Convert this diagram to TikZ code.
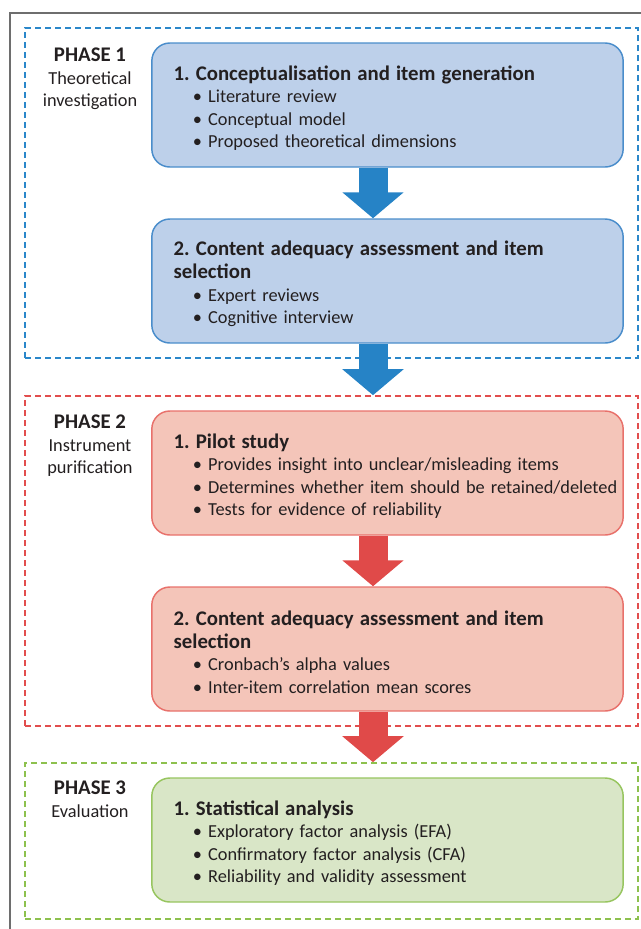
\documentclass[tikz,border=0pt]{standalone}
\usepackage{fontspec}
\setmainfont{Carlito}
\usetikzlibrary{arrows.meta,positioning,shapes}
\definecolor{ink}{HTML}{231F20}
\definecolor{framegray}{HTML}{6E6E6E}
\definecolor{bluedash}{HTML}{2A87CA}
\definecolor{blueline}{HTML}{4A8DCB}
\definecolor{bluefill}{HTML}{BDD0EA}
\definecolor{bluearrow}{HTML}{2683C6}
\definecolor{reddash}{HTML}{E24E4E}
\definecolor{redline}{HTML}{E8716B}
\definecolor{redfill}{HTML}{F4C5B9}
\definecolor{redarrow}{HTML}{E04A49}
\definecolor{greendash}{HTML}{8DC14E}
\definecolor{greenline}{HTML}{97C55F}
\definecolor{greenfill}{HTML}{D9E6C7}
\newcommand{\stagebody}{\fontsize{13.75}{16.9}\selectfont\frenchspacing}
\newcommand{\stagehead}{\fontsize{15.6}{16.9}\selectfont\bfseries}
\tikzset{
  phaseframe/.style={draw=#1, line width=1.2pt, dash pattern=on 4.5pt off 3pt, minimum width=459.75pt, inner sep=0pt},
  stagebox/.style 2 args={draw=#1, fill=#2, line width=1.1pt, rounded corners=13.5pt, text width=340pt, inner xsep=6.75pt, inner ysep=0pt, minimum height=93pt, align=left, font=\stagebody, text=ink, execute at begin node={\rule{0pt}{15.5pt}}},
  phaselabel/.style={anchor=north, align=center, inner sep=0pt, font=\stagebody, text=ink},
  flowarrow/.style={draw=#1, line width=21.75pt, -{Triangle[length=19.5pt,width=45pt]}}
}
\begin{document}
\begin{tikzpicture}[x=0.75pt,y=-0.75pt]
  \useasboundingbox (0,0) rectangle (641,929);
  \clip (0,0) rectangle (641,929);
  \draw[framegray, line width=1.1pt] (10,13) rectangle (700,1000);
  % phase frames
  \node[phaseframe=bluedash, minimum height=247.5pt] (f1) at (331.5,193) {};
  \node[phaseframe=reddash, minimum height=247.5pt] (f2) at (331.5,561) {};
  \node[phaseframe=greendash, minimum height=117pt] (f3) at (331.5,841) {};
  \coordinate (axis) at (373,0);
  % stages
  \node[stagebox={blueline}{bluefill}] (b1) at (387.5,105) {\hspace*{9.6pt}{\stagehead 1. Conceptualisation and item generation}\\
    \hspace*{24.1pt}• Literature review\\
    \hspace*{24.1pt}• Conceptual model\\
    \hspace*{24.1pt}• Proposed theoretical dimensions};
  \node[stagebox={blueline}{bluefill}] (b2) at (387.5,281) {\hspace*{9.6pt}{\stagehead 2. Content adequacy assessment and item}\\
    \hspace*{9.6pt}{\stagehead selection}\\
    \hspace*{24.1pt}• Expert reviews\\
    \hspace*{24.1pt}• Cognitive interview};
  \node[stagebox={redline}{redfill}] (r1) at (387.5,473) {\hspace*{9.6pt}{\stagehead 1. Pilot study}\\
    \hspace*{24.1pt}• Provides insight into unclear/misleading items\\
    \hspace*{24.1pt}\mbox{• Determines whether item should be retained/deleted}\\
    \hspace*{24.1pt}• Tests for evidence of reliability};
  \node[stagebox={redline}{redfill}] (r2) at (387.5,649) {\hspace*{9.6pt}{\stagehead 2. Content adequacy assessment and item}\\
    \hspace*{9.6pt}{\stagehead selection}\\
    \hspace*{24.1pt}• Cronbach’s alpha values\\
    \hspace*{24.1pt}• Inter-item correlation mean scores};
  \node[stagebox={greenline}{greenfill}] (g1) at (387.5,840) {\hspace*{9.6pt}{\stagehead 1. Statistical analysis}\\
    \hspace*{24.1pt}• Exploratory factor analysis (EFA)\\
    \hspace*{24.1pt}• Confirmatory factor analysis (CFA)\\
    \hspace*{24.1pt}• Reliability and validity assessment};
  % arrows
  \draw[flowarrow=bluearrow] (b1.south -| axis) -- (b2.north -| axis);
  \draw[flowarrow=bluearrow] (b2.south -| axis) -- (f2.north -| axis);
  \draw[flowarrow=redarrow] (r1.south -| axis) -- (r2.north -| axis);
  \draw[flowarrow=redarrow] (r2.south -| axis) -- (f3.north -| axis);
  % phase labels
  \node[phaselabel] (p1) at (90,48) {{\stagehead PHASE 1}\\Theoretical\\investigation};
  \node[phaselabel] (p2) at (90,415) {{\stagehead PHASE 2}\\Instrument\\purification};
  \node[phaselabel] (p3) at (90,781) {{\stagehead PHASE 3}\\Evaluation};
\end{tikzpicture}
\end{document}
